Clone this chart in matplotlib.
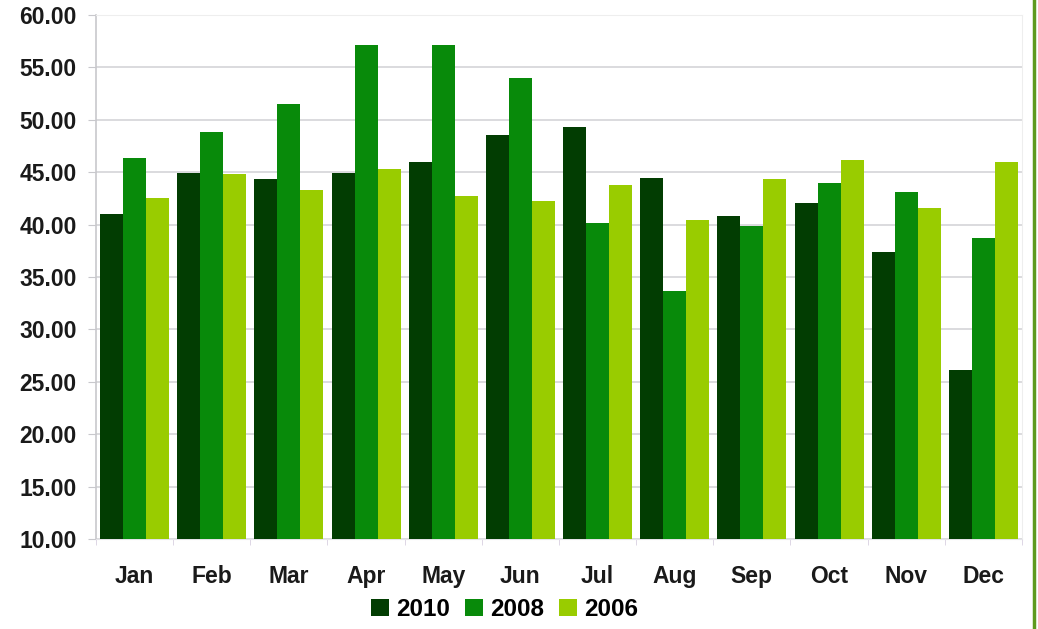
import matplotlib
matplotlib.use("Agg")
import matplotlib.pyplot as plt
import numpy as np
from matplotlib.lines import Line2D

months = ["Jan", "Feb", "Mar", "Apr", "May", "Jun",
          "Jul", "Aug", "Sep", "Oct", "Nov", "Dec"]
series_names = ["2010", "2008", "2006"]
values_2010 = [41.0, 44.9, 44.4, 44.9, 46.0, 48.6, 49.3, 44.5, 40.8, 42.1, 37.4, 26.1]
values_2008 = [46.4, 48.8, 51.5, 57.1, 57.1, 54.0, 40.2, 33.7, 39.9, 44.0, 43.1, 38.7]
values_2006 = [42.5, 44.8, 43.3, 45.3, 42.7, 42.3, 43.8, 40.4, 44.4, 46.2, 41.6, 46.0]
yticks = [10, 15, 20, 25, 30, 35, 40, 45, 50, 55, 60]

colors = ["#023d02", "#088a0a", "#99cc00"]
series = [values_2010, values_2008, values_2006]

plt.rcParams["font.family"] = ["Liberation Sans", "DejaVu Sans"]

fig = plt.figure(figsize=(10.38, 6.29), dpi=100)
ax = fig.add_axes([0.0925, 0.143, 0.892, 0.833])

x = np.arange(len(months))
bar_w = 0.298
base = 10
for i, (vals, col, name) in enumerate(zip(series, colors, series_names)):
    ax.bar(x + (i - 1) * bar_w, np.array(vals) - base, bottom=base,
           width=bar_w, color=col, label=name, zorder=3, linewidth=0)

ax.set_xlim(-0.5, len(months) - 0.5)
ax.set_ylim(10, 60)
ax.set_yticks(yticks)
ax.set_yticklabels([f"{t:.2f}" for t in yticks], fontsize=16.5,
                   fontweight="bold", color="#1a1a1a")
ax.yaxis.grid(True, color="#d4d4d8", linewidth=1.2, zorder=0)
ax.tick_params(axis="y", length=6, color="#c8c8cc", pad=8)

ax.set_xticks(x)
ax.set_xticklabels(months, fontsize=16.5, fontweight="bold", color="#1a1a1a")
ax.set_xticks(np.arange(-0.5, len(months)), minor=True)
ax.tick_params(axis="x", which="major", length=0, pad=19)
ax.tick_params(axis="x", which="minor", length=4, color="#d8d0e0")

for side in ["top", "right"]:
    ax.spines[side].set_color("#eeeeee")
ax.spines["bottom"].set_color("#e4e4e8")
ax.spines["left"].set_color("#c8c8cc")
ax.spines["left"].set_linewidth(1.2)

handles, labels = ax.get_legend_handles_labels()
fig.legend(handles, labels, loc="center", bbox_to_anchor=(0.486, 0.031),
           ncol=3, frameon=False, prop={"weight": "bold", "size": 17.5},
           handlelength=0.75, handleheight=0.75, handletextpad=0.3,
           columnspacing=0.6)

# green frame edge on the right
fig.add_artist(Line2D([0.9965, 0.9965], [0, 1], transform=fig.transFigure,
                      color="#5e9a1e", linewidth=2.5))

fig.savefig("out.png", dpi=100, facecolor="white")
